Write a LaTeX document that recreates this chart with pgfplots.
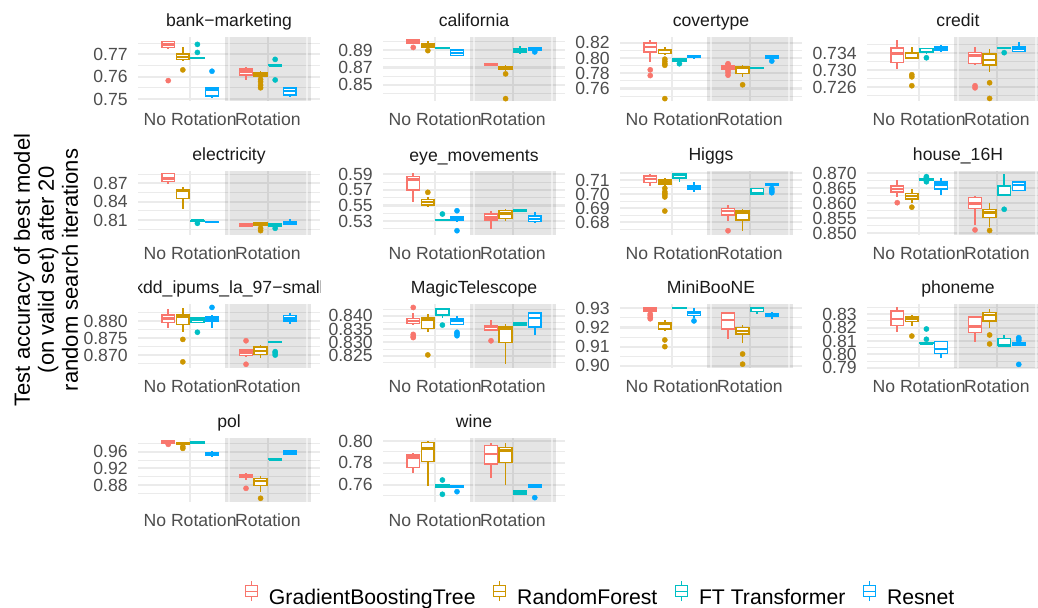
\documentclass[border=0pt]{standalone}
\usepackage{fontspec}
\setmainfont{Liberation Sans}
\usepackage{pgfplots}
\pgfplotsset{compat=1.18}
\usepgfplotslibrary{statistics}
\definecolor{cG}{HTML}{F8766D}
\definecolor{cR}{HTML}{CD9600}
\definecolor{cF}{HTML}{00BFC4}
\definecolor{cN}{HTML}{00A9FF}
\definecolor{gridc}{HTML}{EBEBEB}
\definecolor{tickc}{HTML}{4D4D4D}
\definecolor{stripc}{HTML}{1A1A1A}
\pgfplotsset{
  boxplot/every median/.style={line width=1.25pt},
  every axis title/.style={at={(0.5,1)},anchor=base,yshift=5pt,inner sep=0pt,
     font=\fontsize{8.8}{10}\selectfont,text=stripc},
  panel/.style={
    scale only axis, width=91pt, height=32pt, anchor=south west,
    xmin=0.33, xmax=2.67,
    xtick={1,2}, xticklabels={No Rotation,Rotation},
    axis line style={draw=none}, major tick length=0pt, minor tick length=0pt,
    tick style={draw=none},
    xmajorgrids, ymajorgrids, yminorgrids,
    major grid style={color=gridc, line width=1.07pt},
    minor grid style={color=gridc, line width=0.53pt},
    ticklabel style={font=\fontsize{8.8}{10}\selectfont, text=tickc, inner sep=0pt},
    yticklabel style={xshift=-5pt},
    xticklabel style={anchor=north, yshift=-5.8pt},
  },
}
\newcommand\band{%
  \fill[black,opacity=0.1] (rel axis cs:0.4786,0) rectangle (rel axis cs:0.953,1);
  \draw[white,opacity=0.55,line width=0.8pt] (rel axis cs:0.5,0) -- (rel axis cs:0.5,1);
  \draw[white,opacity=0.55,line width=0.8pt] (rel axis cs:0.9274,0) -- (rel axis cs:0.9274,1);
}
\newcommand\bx[8]{%
  \addplot[draw=#1, fill=white, line width=0.75pt, mark=*, mark size=1.3pt,
    mark options={fill=#1, draw=#1, line width=0.2pt, solid},
    boxplot prepared={draw direction=y, draw position=#2, lower whisker=#3, lower quartile=#4,
      median=#5, upper quartile=#6, upper whisker=#7, box extend=0.165, whisker extend=0}]
    coordinates {#8};}
\begin{document}
\begin{tikzpicture}
\path[use as bounding box] (0,0) rectangle (519pt,-304pt);

% ---------------- Row 1 ----------------
\begin{axis}[panel, at={(69pt,-50.5pt)}, title={bank−marketing},
  ymin=0.7491, ymax=0.7777, ytick={0.75,0.76,0.77}, yticklabels={0.75,0.76,0.77},
  minor ytick={0.755,0.765,0.775}]
\band
\bx{cG}{0.71875}{0.7726}{0.7730}{0.7744}{0.7756}{0.7761}{(0,0.7582)}
\bx{cR}{0.90625}{0.7670}{0.7676}{0.7688}{0.7700}{0.7733}{(0,0.7630)}
\bx{cF}{1.09375}{0.7682}{0.7682}{0.7683}{0.7684}{0.7684}{(0,0.7744) (0,0.7708)}
\bx{cN}{1.28125}{0.7503}{0.7514}{0.7543}{0.7552}{0.7552}{(0,0.7624)}
\bx{cG}{1.71875}{0.7585}{0.7608}{0.7623}{0.7635}{0.7645}{}
\bx{cR}{1.90625}{0.7595}{0.7602}{0.7611}{0.7618}{0.7627}{(0,0.7588) (0,0.7577) (0,0.7562) (0,0.7550)}
\bx{cF}{2.09375}{0.7649}{0.7649}{0.7650}{0.7651}{0.7651}{(0,0.7677) (0,0.7585)}
\bx{cN}{2.28125}{0.7509}{0.7518}{0.7536}{0.7549}{0.7549}{}
\end{axis}

\begin{axis}[panel, at={(191.5pt,-50.5pt)}, title={california},
  ymin=0.8312, ymax=0.9053, ytick={0.85,0.87,0.89}, yticklabels={0.85,0.87,0.89},
  minor ytick={0.84,0.86,0.88,0.90}]
\band
\bx{cG}{0.71875}{0.8975}{0.8982}{0.9003}{0.9018}{0.9025}{(0,0.8932)}
\bx{cR}{0.90625}{0.8925}{0.8939}{0.8959}{0.8979}{0.9009}{(0,0.8895)}
\bx{cF}{1.09375}{0.8926}{0.8926}{0.8927}{0.8928}{0.8928}{}
\bx{cN}{1.28125}{0.8835}{0.8841}{0.8868}{0.8900}{0.8905}{}
\bx{cG}{1.71875}{0.8722}{0.8726}{0.8735}{0.8743}{0.8745}{}
\bx{cR}{1.90625}{0.8665}{0.8676}{0.8690}{0.8704}{0.8724}{(0,0.8626) (0,0.8339)}
\bx{cF}{2.09375}{0.8861}{0.8880}{0.8895}{0.8915}{0.8947}{}
\bx{cN}{2.28125}{0.8895}{0.8905}{0.8915}{0.8927}{0.8930}{(0,0.8880)}
\end{axis}

\begin{axis}[panel, at={(310pt,-50.5pt)}, title={covertype},
  ymin=0.7436, ymax=0.8276, ytick={0.76,0.78,0.80,0.82}, yticklabels={0.76,0.78,0.80,0.82},
  minor ytick={0.75,0.77,0.79,0.81}]
\band
\bx{cG}{0.71875}{0.7947}{0.8080}{0.8147}{0.8200}{0.8236}{(0,0.7845) (0,0.7770)}
\bx{cR}{0.90625}{0.8045}{0.8059}{0.8103}{0.8112}{0.8147}{(0,0.7985) (0,0.7955) (0,0.7925) (0,0.7905) (0,0.7467)}
\bx{cF}{1.09375}{0.7955}{0.7960}{0.7975}{0.7992}{0.7995}{(0,0.7925)}
\bx{cN}{1.28125}{0.7983}{0.8005}{0.8015}{0.8027}{0.8030}{}
\bx{cG}{1.71875}{0.7850}{0.7859}{0.7885}{0.7903}{0.7905}{(0,0.7925) (0,0.7915) (0,0.7835) (0,0.7810) (0,0.7775)}
\bx{cR}{1.90625}{0.7747}{0.7800}{0.7872}{0.7880}{0.7903}{(0,0.7649)}
\bx{cF}{2.09375}{0.7862}{0.7864}{0.7867}{0.7870}{0.7872}{}
\bx{cN}{2.28125}{0.7985}{0.7992}{0.8015}{0.8036}{0.8040}{(0,0.7960)}
\end{axis}

\begin{axis}[panel, at={(433.5pt,-50.5pt)}, title={credit},
  ymin=0.7227, ymax=0.7378, ytick={0.726,0.730,0.734}, yticklabels={0.726,0.730,0.734},
  minor ytick={0.724,0.728,0.732,0.736}]
\band
\bx{cG}{0.71875}{0.7303}{0.7318}{0.7339}{0.7352}{0.7370}{}
\bx{cR}{0.90625}{0.7325}{0.7329}{0.7340}{0.7341}{0.7354}{(0,0.7289) (0,0.7284) (0,0.7263)}
\bx{cF}{1.09375}{0.7339}{0.7341}{0.7343}{0.7351}{0.7352}{(0,0.7329)}
\bx{cN}{1.28125}{0.7342}{0.7346}{0.7351}{0.7356}{0.7358}{}
\bx{cG}{1.71875}{0.7312}{0.7316}{0.7334}{0.7342}{0.7354}{(0,0.7263) (0,0.7258)}
\bx{cR}{1.90625}{0.7296}{0.7312}{0.7324}{0.7338}{0.7350}{(0,0.7270) (0,0.7233)}
\bx{cF}{2.09375}{0.7350}{0.7351}{0.7352}{0.7353}{0.7354}{(0,0.7341)}
\bx{cN}{2.28125}{0.7344}{0.7344}{0.7351}{0.7356}{0.7366}{}
\end{axis}

% ---------------- Row 2 ----------------
\begin{axis}[panel, at={(69pt,-117.5pt)}, title={electricity},
  ymin=0.7854, ymax=0.8901, ytick={0.81,0.84,0.87}, yticklabels={0.81,0.84,0.87},
  minor ytick={0.795,0.825,0.855,0.885}]
\band
\bx{cG}{0.71875}{0.8684}{0.8726}{0.8782}{0.8864}{0.8868}{}
\bx{cR}{0.90625}{0.8279}{0.8455}{0.8579}{0.8602}{0.8635}{}
\bx{cF}{1.09375}{0.8080}{0.8083}{0.8088}{0.8092}{0.8095}{(0,0.8045)}
\bx{cN}{1.28125}{0.8060}{0.8063}{0.8067}{0.8072}{0.8075}{}
\bx{cG}{1.71875}{0.8000}{0.8005}{0.8025}{0.8045}{0.8048}{}
\bx{cR}{1.90625}{0.8000}{0.8013}{0.8040}{0.8055}{0.8058}{(0,0.7964) (0,0.7925)}
\bx{cF}{2.09375}{0.7995}{0.8001}{0.8030}{0.8045}{0.8048}{(0,0.7964)}
\bx{cN}{2.28125}{0.8030}{0.8034}{0.8050}{0.8072}{0.8116}{}
\end{axis}

\begin{axis}[panel, at={(191.5pt,-117.5pt)}, title={eye\_movements},
  ymin=0.5122, ymax=0.5942, ytick={0.53,0.55,0.57,0.59}, yticklabels={0.53,0.55,0.57,0.59},
  minor ytick={0.52,0.54,0.56,0.58}]
\band
\bx{cG}{0.71875}{0.5549}{0.5699}{0.5836}{0.5869}{0.5913}{}
\bx{cR}{0.90625}{0.5485}{0.5506}{0.5545}{0.5580}{0.5613}{(0,0.5669)}
\bx{cF}{1.09375}{0.5312}{0.5313}{0.5314}{0.5315}{0.5316}{(0,0.5391)}
\bx{cN}{1.28125}{0.5295}{0.5305}{0.5331}{0.5357}{0.5365}{(0,0.5433) (0,0.5177)}
\bx{cG}{1.71875}{0.5195}{0.5314}{0.5349}{0.5391}{0.5433}{}
\bx{cR}{1.90625}{0.5305}{0.5336}{0.5400}{0.5433}{0.5455}{}
\bx{cF}{2.09375}{0.5420}{0.5425}{0.5432}{0.5445}{0.5450}{}
\bx{cN}{2.28125}{0.5272}{0.5292}{0.5327}{0.5365}{0.5413}{}
\end{axis}

\begin{axis}[panel, at={(310pt,-117.5pt)}, title={Higgs},
  ymin=0.6710, ymax=0.7164, ytick={0.68,0.69,0.70,0.71}, yticklabels={0.68,0.69,0.70,0.71},
  minor ytick={0.675,0.685,0.695,0.705,0.715}]
\band
\bx{cG}{0.71875}{0.7057}{0.7084}{0.7107}{0.7128}{0.7140}{}
\bx{cR}{0.90625}{0.7050}{0.7072}{0.7088}{0.7100}{0.7112}{(0,0.7041) (0,0.7017) (0,0.7005) (0,0.6994) (0,0.6980) (0,0.6880)}
\bx{cF}{1.09375}{0.7084}{0.7116}{0.7140}{0.7148}{0.7150}{}
\bx{cN}{1.28125}{0.7017}{0.7036}{0.7048}{0.7057}{0.7084}{}
\bx{cG}{1.71875}{0.6809}{0.6852}{0.6880}{0.6899}{0.6923}{(0,0.6740)}
\bx{cR}{1.90625}{0.6740}{0.6816}{0.6868}{0.6880}{0.6892}{}
\bx{cF}{2.09375}{0.6998}{0.7001}{0.7003}{0.7041}{0.7043}{}
\bx{cN}{2.28125}{0.7050}{0.7060}{0.7072}{0.7075}{0.7078}{(0,0.7040) (0,0.7030) (0,0.7020) (0,0.7010)}
\end{axis}

\begin{axis}[panel, at={(433.5pt,-117.5pt)}, title={house\_16H},
  ymin=0.8494, ymax=0.8708, ytick={0.850,0.855,0.860,0.865,0.870},
  yticklabels={0.850,0.855,0.860,0.865,0.870},
  minor ytick={0.8525,0.8575,0.8625,0.8675}]
\band
\bx{cG}{0.71875}{0.8620}{0.8637}{0.8648}{0.8658}{0.8678}{(0,0.8602)}
\bx{cR}{0.90625}{0.8600}{0.8614}{0.8625}{0.8633}{0.8647}{(0,0.8587)}
\bx{cF}{1.09375}{0.8675}{0.8676}{0.8678}{0.8681}{0.8683}{(0,0.8689) (0,0.8686) (0,0.8672)}
\bx{cN}{1.28125}{0.8628}{0.8648}{0.8663}{0.8672}{0.8685}{}
\bx{cG}{1.71875}{0.8528}{0.8583}{0.8600}{0.8620}{0.8624}{(0,0.8511)}
\bx{cR}{1.90625}{0.8522}{0.8553}{0.8569}{0.8580}{0.8600}{(0,0.8509)}
\bx{cF}{2.09375}{0.8628}{0.8628}{0.8658}{0.8659}{0.8697}{(0,0.8580)}
\bx{cN}{2.28125}{0.8642}{0.8642}{0.8661}{0.8672}{0.8672}{}
\end{axis}

% ---------------- Row 3 ----------------
\begin{axis}[panel, at={(69pt,-184pt)},
  ymin=0.8662, ymax=0.8850, ytick={0.870,0.875,0.880}, yticklabels={0.870,0.875,0.880},
  minor ytick={0.8675,0.8725,0.8775,0.8825}]
\band
\bx{cG}{0.71875}{0.8779}{0.8796}{0.8808}{0.8818}{0.8834}{}
\bx{cR}{0.90625}{0.8769}{0.8790}{0.8813}{0.8818}{0.8837}{(0,0.8746) (0,0.8680)}
\bx{cF}{1.09375}{0.8794}{0.8796}{0.8805}{0.8810}{0.8812}{(0,0.8767)}
\bx{cN}{1.28125}{0.8780}{0.8800}{0.8808}{0.8813}{0.8818}{(0,0.8840)}
\bx{cG}{1.71875}{0.8695}{0.8698}{0.8708}{0.8715}{0.8718}{(0,0.8742) (0,0.8673)}
\bx{cR}{1.90625}{0.8692}{0.8702}{0.8712}{0.8724}{0.8731}{}
\bx{cF}{2.09375}{0.8738}{0.8739}{0.8739}{0.8740}{0.8740}{(0,0.8710) (0,0.8706) (0,0.8700)}
\bx{cN}{2.28125}{0.8791}{0.8800}{0.8808}{0.8816}{0.8824}{}
\end{axis}
\begin{scope}
\clip (69pt,-160pt) rectangle (160pt,-140pt);
\node[anchor=base, inner sep=0pt, font=\fontsize{8.8}{10}\selectfont, text=stripc] at (114.5pt,-147pt) {kdd\_ipums\_la\_97−small};
\end{scope}

\begin{axis}[panel, at={(191.5pt,-184pt)}, title={MagicTelescope},
  ymin=0.8204, ymax=0.8444, ytick={0.825,0.830,0.835,0.840}, yticklabels={0.825,0.830,0.835,0.840},
  minor ytick={0.8225,0.8275,0.8325,0.8375,0.8425}]
\band
\bx{cG}{0.71875}{0.8365}{0.8371}{0.8381}{0.8390}{0.8409}{(0,0.8431) (0,0.8330) (0,0.8322) (0,0.8318)}
\bx{cR}{0.90625}{0.8338}{0.8353}{0.8386}{0.8393}{0.8405}{(0,0.8253)}
\bx{cF}{1.09375}{0.8390}{0.8403}{0.8425}{0.8428}{0.8430}{(0,0.8365)}
\bx{cN}{1.28125}{0.8368}{0.8368}{0.8380}{0.8388}{0.8399}{(0,0.8338) (0,0.8332) (0,0.8325)}
\bx{cG}{1.71875}{0.8346}{0.8346}{0.8357}{0.8363}{0.8384}{(0,0.8306)}
\bx{cR}{1.90625}{0.8218}{0.8300}{0.8353}{0.8357}{0.8369}{}
\bx{cF}{2.09375}{0.8365}{0.8366}{0.8369}{0.8372}{0.8373}{}
\bx{cN}{2.28125}{0.8328}{0.8357}{0.8392}{0.8411}{0.8414}{}
\end{axis}

\begin{axis}[panel, at={(310pt,-184pt)}, title={MiniBooNE},
  ymin=0.8989, ymax=0.9322, ytick={0.90,0.91,0.92,0.93}, yticklabels={0.90,0.91,0.92,0.93},
  minor ytick={0.905,0.915,0.925}]
\band
\bx{cG}{0.71875}{0.9278}{0.9282}{0.9291}{0.9300}{0.9302}{(0,0.9270) (0,0.9262) (0,0.9252) (0,0.9245)}
\bx{cR}{0.90625}{0.9182}{0.9192}{0.9217}{0.9227}{0.9239}{(0,0.9135) (0,0.9100)}
\bx{cF}{1.09375}{0.9299}{0.9299}{0.9300}{0.9301}{0.9301}{}
\bx{cN}{1.28125}{0.9250}{0.9262}{0.9274}{0.9282}{0.9300}{(0,0.9234)}
\bx{cG}{1.71875}{0.9140}{0.9192}{0.9239}{0.9274}{0.9282}{}
\bx{cR}{1.90625}{0.9118}{0.9165}{0.9182}{0.9201}{0.9213}{(0,0.9062) (0,0.9009)}
\bx{cF}{2.09375}{0.9269}{0.9282}{0.9300}{0.9305}{0.9307}{}
\bx{cN}{2.28125}{0.9244}{0.9256}{0.9264}{0.9270}{0.9279}{}
\end{axis}

\begin{axis}[panel, at={(433.5pt,-184pt)}, title={phoneme},
  ymin=0.7898, ymax=0.8377, ytick={0.79,0.80,0.81,0.82,0.83}, yticklabels={0.79,0.80,0.81,0.82,0.83},
  minor ytick={0.795,0.805,0.815,0.825,0.835}]
\band
\bx{cG}{0.71875}{0.8170}{0.8215}{0.8263}{0.8325}{0.8352}{}
\bx{cR}{0.90625}{0.8215}{0.8245}{0.8270}{0.8282}{0.8295}{(0,0.8137)}
\bx{cF}{1.09375}{0.8080}{0.8081}{0.8083}{0.8086}{0.8090}{(0,0.8190) (0,0.8113)}
\bx{cN}{1.28125}{0.7970}{0.8008}{0.8040}{0.8095}{0.8102}{}
\bx{cG}{1.71875}{0.8095}{0.8165}{0.8207}{0.8278}{0.8282}{}
\bx{cR}{1.90625}{0.8200}{0.8250}{0.8295}{0.8315}{0.8340}{(0,0.8145) (0,0.8078)}
\bx{cF}{2.09375}{0.8053}{0.8065}{0.8068}{0.8120}{0.8145}{}
\bx{cN}{2.28125}{0.8060}{0.8068}{0.8078}{0.8085}{0.8090}{(0,0.8125) (0,0.8115) (0,0.8105) (0,0.7925)}
\end{axis}

% ---------------- Row 4 ----------------
\begin{axis}[panel, at={(69pt,-251pt)}, title={pol},
  ymin=0.8394, ymax=0.9929, ytick={0.88,0.92,0.96}, yticklabels={0.88,0.92,0.96},
  minor ytick={0.86,0.90,0.94,0.98}]
\band
\bx{cG}{0.71875}{0.9805}{0.9809}{0.9830}{0.9857}{0.9860}{(0,0.9777)}
\bx{cR}{0.90625}{0.9775}{0.9777}{0.9800}{0.9825}{0.9828}{(0,0.9720) (0,0.9680)}
\bx{cF}{1.09375}{0.9800}{0.9805}{0.9820}{0.9840}{0.9842}{}
\bx{cN}{1.28125}{0.9500}{0.9504}{0.9545}{0.9585}{0.9624}{}
\bx{cG}{1.71875}{0.8921}{0.8977}{0.9017}{0.9058}{0.9096}{(0,0.8722)}
\bx{cR}{1.90625}{0.8626}{0.8785}{0.8897}{0.8962}{0.9017}{(0,0.8483)}
\bx{cF}{2.09375}{0.9405}{0.9410}{0.9418}{0.9430}{0.9432}{}
\bx{cN}{2.28125}{0.9545}{0.9545}{0.9580}{0.9624}{0.9628}{}
\end{axis}

\begin{axis}[panel, at={(191.5pt,-251pt)}, title={wine},
  ymin=0.7440, ymax=0.8028, ytick={0.76,0.78,0.80}, yticklabels={0.76,0.78,0.80},
  minor ytick={0.75,0.77,0.79}]
\band
\bx{cG}{0.71875}{0.7703}{0.7759}{0.7847}{0.7872}{0.7887}{}
\bx{cR}{0.90625}{0.7590}{0.7810}{0.7933}{0.7988}{0.8003}{}
\bx{cF}{1.09375}{0.7572}{0.7572}{0.7585}{0.7596}{0.7596}{(0,0.7642) (0,0.7511)}
\bx{cN}{1.28125}{0.7572}{0.7574}{0.7580}{0.7590}{0.7592}{(0,0.7535)}
\bx{cG}{1.71875}{0.7658}{0.7789}{0.7881}{0.7957}{0.7979}{}
\bx{cR}{1.90625}{0.7596}{0.7801}{0.7911}{0.7939}{0.7979}{}
\bx{cF}{2.09375}{0.7505}{0.7510}{0.7525}{0.7541}{0.7545}{}
\bx{cN}{2.28125}{0.7572}{0.7580}{0.7590}{0.7603}{0.7605}{(0,0.7480)}
\end{axis}

% ---------------- Y label ----------------
\node[rotate=90, align=center, font=\fontsize{11}{12}\selectfont] at (23pt,-135pt)
  {Test accuracy of best model\\(on valid set) after 20\\random search iterations};

% ---------------- Legend ----------------
\begin{axis}[at={(300.8pt,-298pt)}, anchor=center, hide axis, scale only axis,
  width=10pt, height=10pt, xmin=0, xmax=1, ymin=0, ymax=1,
  legend columns=4,
  legend style={at={(0.5,0.5)}, anchor=center, draw=none, fill=none,
    font=\fontsize{10.6}{12}\selectfont,
    /tikz/every even column/.append style={column sep=6.8pt},
    /tikz/every odd column/.append style={column sep=3.4pt}},
  legend image code/.code={%
    \draw[#1, line width=0.6pt] (3pt,-1.4pt) -- (3pt,8.6pt);
    \filldraw[#1, fill=white, line width=0.6pt] (0pt,0.8pt) rectangle (6pt,6.4pt);
    \draw[#1, line width=0.6pt] (0pt,3.6pt) -- (6pt,3.6pt);}]
\addlegendimage{draw=cG}\addlegendentry{GradientBoostingTree}
\addlegendimage{draw=cR}\addlegendentry{RandomForest}
\addlegendimage{draw=cF}\addlegendentry{FT Transformer}
\addlegendimage{draw=cN}\addlegendentry{Resnet}
\end{axis}
\end{tikzpicture}
\end{document}
